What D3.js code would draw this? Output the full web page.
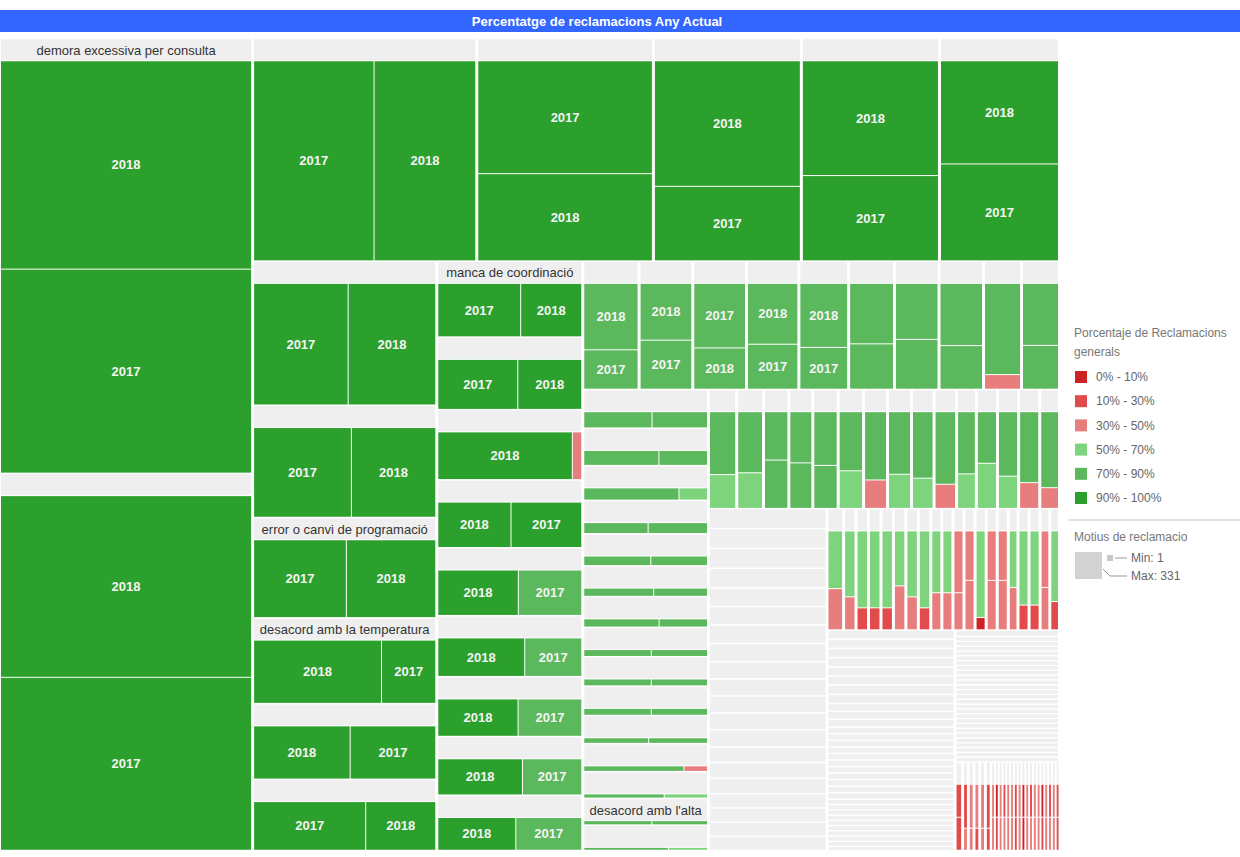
<!DOCTYPE html>
<html>
<head>
<meta charset="utf-8">
<script src="https://cdn.jsdelivr.net/npm/d3@7"></script>
<style>
  body { margin: 0; background: #fff; }
  svg { display: block; font-family: Arial, "Liberation Sans", sans-serif; }
</style>
</head>
<body>
<svg id="chart" width="1240" height="857"></svg>
<script>
// ---- Data -------------------------------------------------------------
const title = "Percentatge de reclamacions Any Actual";
const years = ["2017", "2018"];

// Labelled complaint reasons (position in the list -> name)
const namedMotius = [
  [0, "demora excessiva per consulta"],
  [9, "error o canvi de programació"],
  [10, "desacord amb la temperatura"],
  [13, "manca de coordinació"],
  [45, "desacord amb l'alta"]
];

// Number of complaints per reason, year 2017
const count2017 = [
  324, 277,
  161, 132, 73, 78, 77,
  82, 66, 56, 28, 39, 48,
  38, 35, 4, 29, 26, 21, 23, 21, 22,
  16, 19, 25, 17, 15, 15, 16, 14, 4, 12,
  13, 11, 6, 12, 11, 10, 9, 10, 10, 10, 10, 4, 7, 9, 6,
  7, 7, 9, 8, 8, 7, 5, 6, 5, 4, 5, 7, 5, 4, 3,
  6, 6, 6, 6, 6, 6, 6, 6, 5, 5, 5, 5, 5, 5, 5, 5, 4, 4, 4, 4,
  5, 3, 2, 2, 2, 4, 3, 2, 3, 3, 3, 4, 1, 4, 4, 3, 2, 2, 3, 2,
  3, 3, 3, 3, 3, 3, 3, 3, 3, 3, 3, 2, 2, 2, 2, 2, 2, 2, 2, 2, 2, 2, 2, 2, 2, 2, 2, 2, 2, 2, 2, 1,
  2, 1, 1, 1, 1, 1, 1, 1, 1, 1, 1, 1, 1, 1, 1, 1, 1, 1, 1, 1, 1, 1, 1, 1, 1, 1, 1,
  2, 1, 1, 1, 1, 1, 1, 1, 1, 1, 1, 1, 1, 1, 1, 1, 1, 1, 1, 1, 1, 1, 1, 1
];

// Number of complaints per reason, year 2018
const count2018 = [
  331, 291,
  136, 102, 123, 105, 82,
  76, 57, 54, 66, 44, 30,
  28, 28, 57, 30, 33, 32, 29, 30, 26,
  27, 22, 16, 23, 23, 20, 18, 20, 25, 17,
  16, 17, 20, 13, 13, 13, 14, 12, 12, 12, 11, 17, 13, 11, 13,
  13, 12, 9, 9, 10, 11, 12, 11, 11, 12, 9, 8, 10, 11, 11,
  8, 8, 8, 8, 7, 7, 7, 7, 7, 7, 7, 7, 7, 6, 6, 6, 6, 6, 6, 6,
  7, 6, 7, 7, 7, 5, 6, 7, 5, 5, 5, 4, 7, 4, 4, 4, 6, 6, 4, 5,
  4, 4, 4, 4, 4, 4, 4, 4, 3, 3, 3, 3, 3, 3, 3, 3, 3, 3, 3, 3, 3, 3, 2, 2, 2, 2, 2, 2, 2, 2, 2, 2,
  2, 2, 2, 2, 2, 2, 2, 2, 2, 2, 2, 2, 2, 2, 2, 2, 2, 2, 2, 2, 2, 2, 2, 2, 2, 2, 2,
  2, 2, 2, 2, 2, 2, 1, 1, 1, 1, 1, 1, 1, 1, 1, 1, 1, 1, 1, 1, 1, 1, 1, 1
];

// Percentage of general complaints, year 2017
const pct2017 = [
  95, 95,
  95, 95, 95, 95, 95,
  95, 95, 95, 95, 95, 95,
  95, 95, 40, 95, 80, 80, 80, 80, 80,
  80, 80, 80, 80, 80, 80, 80, 80, 40, 80,
  80, 80, 60, 80, 80, 80, 80, 80, 80, 80, 80, 40, 60, 80, 60,
  60, 60, 80, 80, 80, 60, 40, 60, 60, 40, 60, 60, 60, 40, 40,
  60, 60, 60, 60, 60, 60, 60, 60, 60, 60, 60, 60, 60, 60, 60, 60, 60, 60, 60, 60,
  40, 40, 20, 20, 20, 40, 40, 20, 40, 40, 40, 40, 5, 40, 40, 40, 20, 20, 40, 20,
  60, 60, 60, 60, 60, 60, 60, 60, 60, 60, 60, 60, 60, 60, 60, 60, 60, 60, 60, 60, 60, 60, 60, 60, 60, 60, 60, 60, 60, 60, 60, 60,
  40, 40, 40, 40, 40, 40, 40, 40, 40, 40, 40, 40, 40, 40, 40, 40, 40, 40, 40, 40, 40, 40, 40, 40, 40, 40, 40,
  20, 40, 40, 20, 40, 20, 40, 5, 40, 20, 40, 40, 20, 40, 5, 40, 20, 40, 40, 5, 40, 20, 40, 20
];

// Percentage of general complaints, year 2018
const pct2018 = [
  95, 95,
  95, 95, 95, 95, 95,
  95, 95, 95, 95, 95, 95,
  95, 95, 95, 95, 95, 95, 95, 95, 95,
  80, 80, 80, 80, 80, 80, 80, 80, 80, 80,
  80, 80, 80, 80, 80, 80, 80, 80, 80, 80, 80, 80, 80, 80, 80,
  80, 80, 80, 80, 80, 80, 80, 80, 80, 80, 80, 80, 80, 80, 80,
  80, 80, 80, 80, 80, 80, 80, 80, 80, 80, 80, 80, 80, 80, 80, 80, 80, 80, 80, 80,
  60, 60, 60, 60, 60, 60, 60, 60, 60, 60, 40, 40, 60, 40, 40, 60, 60, 60, 40, 60,
  80, 80, 80, 80, 80, 80, 80, 80, 80, 80, 80, 80, 80, 80, 80, 80, 80, 80, 80, 80, 80, 80, 80, 80, 80, 80, 80, 80, 80, 80, 80, 80,
  60, 60, 60, 60, 60, 60, 60, 60, 60, 60, 60, 60, 60, 60, 60, 60, 60, 60, 60, 60, 60, 60, 60, 60, 60, 60, 60,
  20, 20, 40, 40, 40, 20, 40, 20, 40, 40, 40, 40, 20, 40, 5, 40, 40, 40, 40, 20, 40, 40, 40, 20
];

// Colour legend
const pctBreaks = [10, 30, 50, 70, 90];
const pctColors = ["#cc2424", "#e24b4b", "#e87d7d", "#7dd47d", "#5cb85c", "#2ca02c"];
const pctLabels = ["0% - 10%", "10% - 30%", "30% - 50%", "50% - 70%", "70% - 90%", "90% - 100%"];
const sizeMin = 1, sizeMax = 331;

// ---- Layout -----------------------------------------------------------
// Strips filled from the outside in: [orientation, number of reasons]
const stripPlan = [
  ["slice", 2], ["dice", 5], ["slice", 6], ["slice", 9], ["dice", 10],
  ["slice", 15], ["dice", 15], ["slice", 20], ["dice", 20], ["slice", 32]
].concat(Array.from({ length: 27 }, () => ["dice", 1]), [["dice", 24]]);

function stripTile(parent, x0, y0, x1, y1) {
  const nodes = parent.children;
  let remaining = parent.value, i = 0;
  for (const [dir, n] of stripPlan) {
    if (i >= nodes.length) break;
    const row = { children: nodes.slice(i, i + n) };
    row.value = d3.sum(row.children, d => d.value);
    if (dir === "dice") {
      const yb = y0 + (y1 - y0) * row.value / remaining;
      d3.treemapDice(row, x0, y0, x1, yb);
      y0 = yb;
    } else {
      const xb = x0 + (x1 - x0) * row.value / remaining;
      d3.treemapSlice(row, x0, y0, xb, y1);
      x0 = xb;
    }
    remaining -= row.value;
    i += n;
  }
}
const squarify = d3.treemapSquarify.ratio(1);
const tile = (node, x0, y0, x1, y1) =>
  node.depth === 0 ? stripTile(node, x0, y0, x1, y1) : squarify(node, x0, y0, x1, y1);

const HEADER = 21;
const gapX = d => Math.min(3, 0.5 * (d.x1 - d.x0));
const gapY = d => Math.min(1.5, 0.3 * (d.y1 - d.y0));

const nameOf = new Map(namedMotius);
const rootData = {
  children: count2017.map((c, i) => ({
    name: nameOf.get(i) || "",
    children: [
      { year: years[0], value: count2017[i], pct: pct2017[i] },
      { year: years[1], value: count2018[i], pct: pct2018[i] }
    ].sort((a, b) => b.value - a.value)
  }))
};

const root = d3.hierarchy(rootData).sum(d => d.value || 0);

const W = 1060, H = 812;
d3.treemap()
  .tile(tile)
  .size([W, H])
  .paddingInner(d => d.depth === 1 ? 1 : 0)
  .paddingLeft(d => d.depth === 1 ? gapX(d) / 2 : 0)
  .paddingRight(d => d.depth === 1 ? gapX(d) / 2 : 0)
  .paddingTop(d => d.depth === 1 ? gapY(d) / 2 + HEADER + 1 : 0)
  .paddingBottom(d => d.depth === 1 ? gapY(d) / 2 : 0)(root);

const color = d3.scaleThreshold().domain(pctBreaks).range(pctColors);

// ---- Drawing ----------------------------------------------------------
const svg = d3.select("#chart");

svg.append("rect").attr("x", 0).attr("y", 10).attr("width", 1240).attr("height", 22)
  .attr("fill", "#3366ff");
svg.append("text").attr("x", 597).attr("y", 21).attr("dy", "0.35em")
  .attr("text-anchor", "middle").attr("fill", "#fff")
  .attr("font-size", 13).attr("font-weight", "bold").text(title);

const plot = svg.append("g").attr("transform", "translate(-0.5,38.5)");

const groups = plot.selectAll("g.motiu").data(root.children).join("g").attr("class", "motiu");

groups.append("rect")
  .attr("x", d => d.x0 + gapX(d) / 2)
  .attr("y", d => d.y0 + gapY(d) / 2)
  .attr("width", d => Math.max(0, d.x1 - d.x0 - gapX(d)))
  .attr("height", d => Math.max(0, Math.min(HEADER, d.y1 - d.y0 - gapY(d))))
  .attr("fill", "#efefef");

groups.filter(d => d.data.name)
  .append("text")
  .attr("x", d => (d.x0 + d.x1) / 2)
  .attr("y", d => d.y0 + gapY(d) / 2 + HEADER / 2 + 0.5)
  .attr("dy", "0.35em")
  .attr("text-anchor", "middle")
  .attr("font-size", 13)
  .attr("fill", "#333")
  .text(d => d.data.name);

const leaves = root.leaves().filter(d => d.x1 - d.x0 > 0.3 && d.y1 - d.y0 > 0.3);

plot.selectAll("rect.any").data(leaves).join("rect").attr("class", "any")
  .attr("x", d => d.x0).attr("y", d => d.y0)
  .attr("width", d => d.x1 - d.x0).attr("height", d => d.y1 - d.y0)
  .attr("fill", d => color(d.data.pct));

plot.selectAll("text.any").data(leaves.filter(d => d.x1 - d.x0 >= 46 && d.y1 - d.y0 >= 20))
  .join("text").attr("class", "any")
  .attr("x", d => (d.x0 + d.x1) / 2)
  .attr("y", d => (d.y0 + d.y1) / 2)
  .attr("dy", "0.35em")
  .attr("text-anchor", "middle")
  .attr("font-size", 13).attr("font-weight", "bold")
  .attr("fill", "#f4f4f4")
  .text(d => d.data.year);

// ---- Legend -----------------------------------------------------------
const legend = svg.append("g").attr("font-size", 12);
legend.append("text").attr("x", 1074).attr("y", 333).attr("dy", "0.35em")
  .attr("fill", "#777").text("Porcentaje de Reclamacions");
legend.append("text").attr("x", 1074).attr("y", 352).attr("dy", "0.35em")
  .attr("fill", "#777").text("generals");

const ly = d3.scalePoint().domain(pctLabels).range([377, 498]);
const items = legend.selectAll("g.item").data(pctLabels).join("g").attr("class", "item")
  .attr("transform", d => `translate(1075,${ly(d)})`);
items.append("rect").attr("x", 0).attr("y", -6).attr("width", 12).attr("height", 12)
  .attr("fill", (d, i) => pctColors[i]);
items.append("text").attr("x", 21).attr("dy", "0.35em").attr("fill", "#666").text(d => d);

legend.append("line").attr("x1", 1068).attr("x2", 1240).attr("y1", 520).attr("y2", 520)
  .attr("stroke", "#e2e2e2").attr("stroke-width", 2);
legend.append("text").attr("x", 1074).attr("y", 537).attr("dy", "0.35em")
  .attr("fill", "#777").text("Motius de reclamacio");

legend.append("rect").attr("x", 1075).attr("y", 552).attr("width", 27).attr("height", 27)
  .attr("fill", "#d2d2d2");
legend.append("rect").attr("x", 1107).attr("y", 555).attr("width", 6).attr("height", 6)
  .attr("fill", "#c8c8c8");
legend.append("line").attr("x1", 1115).attr("x2", 1127).attr("y1", 558).attr("y2", 558)
  .attr("stroke", "#999");
legend.append("path").attr("d", "M1103,569 L1110,576 L1127,576")
  .attr("fill", "none").attr("stroke", "#999");
legend.append("text").attr("x", 1131).attr("y", 558).attr("dy", "0.35em")
  .attr("fill", "#666").text(`Min: ${sizeMin}`);
legend.append("text").attr("x", 1131).attr("y", 576).attr("dy", "0.35em")
  .attr("fill", "#666").text(`Max: ${sizeMax}`);
</script>
</body>
</html>
